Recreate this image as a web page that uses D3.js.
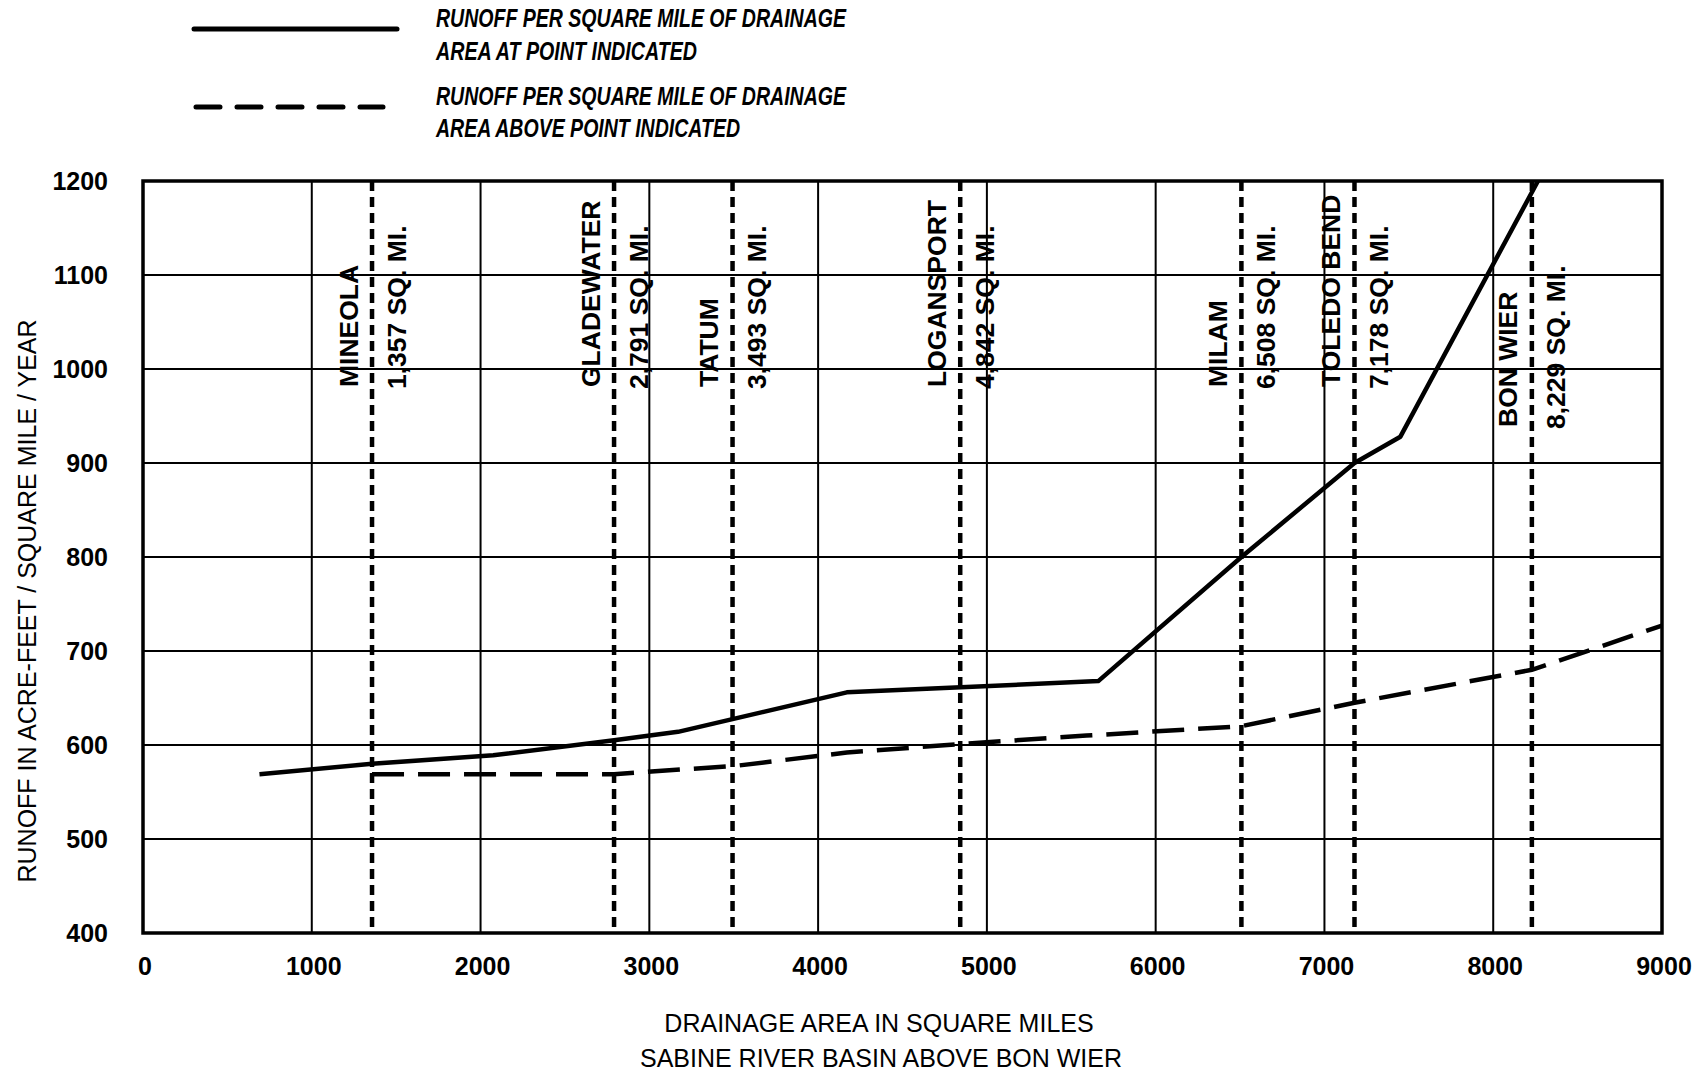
<!DOCTYPE html>
<html>
<head>
  <meta charset="utf-8">
  <title>Sabine River Basin Runoff</title>
  <script src="https://d3js.org/d3.v7.min.js"></script>
  <style>
    body { margin: 0; background: #fff; }
    svg { display: block; font-family: "Liberation Sans", Arial, sans-serif; }
    .grid line { stroke: #000; stroke-width: 2; }
    .frame { fill: none; stroke: #000; stroke-width: 3.5; }
    .station { stroke: #000; stroke-width: 4.5; stroke-dasharray: 10 6; }
    .tick-label { font-size: 25px; font-weight: bold; }
    .station-label { font-size: 26.5px; font-weight: bold; }
    .axis-title { font-size: 25px; }
    .legend-text { font-size: 26px; font-weight: bold; font-style: italic; }
  </style>
</head>
<body>
  <svg width="1703" height="1071"></svg>
  <script>
    // stations along the river (drainage area, sq. mi.)
    const stations = ["MINEOLA", "GLADEWATER", "TATUM", "LOGANSPORT", "MILAM", "TOLEDO BEND", "BON WIER"];
    const stationArea = [1357, 2791, 3493, 4842, 6508, 7178, 8229];
    const stationText = ["1,357 SQ. MI.", "2,791 SQ. MI.", "3,493 SQ. MI.", "4,842 SQ. MI.",
                         "6,508 SQ. MI.", "7,178 SQ. MI.", "8,229 SQ. MI."];

    // runoff per sq mile of drainage area at point indicated (solid)
    const atPointArea   = [690, 1357, 2075, 2791, 3170, 4170, 5660, 6508, 7178, 7450, 8265];
    const atPointRunoff = [569, 580, 589, 605, 614, 656, 668, 800, 900, 928, 1200];

    // runoff per sq mile of drainage area above point indicated (dashed)
    const aboveArea   = [1357, 2791, 3520, 4170, 4842, 5590, 6508, 7178, 8229, 9000];
    const aboveRunoff = [569, 569, 578, 592, 601, 610, 620, 645, 680, 727];

    const xTicks = [0, 1000, 2000, 3000, 4000, 5000, 6000, 7000, 8000, 9000];
    const yTicks = [400, 500, 600, 700, 800, 900, 1000, 1100, 1200];

    const svg = d3.select("svg");

    const x = d3.scaleLinear().domain([0, 9000]).range([143, 1662]);
    const y = d3.scaleLinear().domain([400, 1200]).range([933, 181]);

    // grid
    const grid = svg.append("g").attr("class", "grid");
    grid.selectAll("line.v")
      .data(xTicks.slice(1, -1))
      .enter().append("line")
      .attr("class", "v")
      .attr("x1", d => x(d)).attr("x2", d => x(d))
      .attr("y1", y(1200)).attr("y2", y(400));
    grid.selectAll("line.h")
      .data(yTicks.slice(1, -1))
      .enter().append("line")
      .attr("class", "h")
      .attr("x1", x(0)).attr("x2", x(9000))
      .attr("y1", d => y(d)).attr("y2", d => y(d));

    // station lines
    svg.append("g")
      .selectAll("line")
      .data(stationArea)
      .enter().append("line")
      .attr("class", "station")
      .attr("x1", d => x(d)).attr("x2", d => x(d))
      .attr("y1", y(1200)).attr("y2", y(400));

    // station labels, reading bottom to top
    const labels = svg.append("g");
    stationArea.forEach((a, i) => {
      const base = i === 6 ? 427 : 387;
      labels.append("text")
        .attr("class", "station-label")
        .attr("dy", "0.36em")
        .attr("transform", `translate(${x(a) - 24},${base}) rotate(-90)`)
        .text(stations[i]);
      labels.append("text")
        .attr("class", "station-label")
        .attr("dy", "0.36em")
        .attr("transform", `translate(${x(a) + 24},${base + 2}) rotate(-90)`)
        .text(stationText[i]);
    });

    // frame
    svg.append("rect")
      .attr("class", "frame")
      .attr("x", x(0)).attr("y", y(1200))
      .attr("width", x(9000) - x(0))
      .attr("height", y(400) - y(1200));

    const line = d3.line().x(d => x(d[0])).y(d => y(d[1]));

    svg.append("path")
      .datum(d3.zip(atPointArea, atPointRunoff))
      .attr("fill", "none")
      .attr("stroke", "#000")
      .attr("stroke-width", 4.5)
      .attr("stroke-linejoin", "round")
      .attr("d", line);

    svg.append("path")
      .datum(d3.zip(aboveArea, aboveRunoff))
      .attr("fill", "none")
      .attr("stroke", "#000")
      .attr("stroke-width", 4.5)
      .attr("stroke-dasharray", "32 14")
      .attr("d", line);

    // tick labels
    svg.append("g")
      .selectAll("text")
      .data(xTicks)
      .enter().append("text")
      .attr("class", "tick-label")
      .attr("text-anchor", "middle")
      .attr("x", d => x(d) + 2)
      .attr("y", 975)
      .text(d => d);
    svg.append("g")
      .selectAll("text")
      .data(yTicks)
      .enter().append("text")
      .attr("class", "tick-label")
      .attr("text-anchor", "end")
      .attr("dy", "0.36em")
      .attr("x", 108)
      .attr("y", d => y(d))
      .text(d => d);

    // axis titles
    svg.append("text")
      .attr("class", "axis-title")
      .attr("text-anchor", "middle")
      .attr("dy", "0.36em")
      .attr("transform", "translate(27,601) rotate(-90)")
      .text("RUNOFF IN ACRE-FEET / SQUARE MILE / YEAR");
    svg.append("text")
      .attr("class", "axis-title")
      .attr("text-anchor", "middle")
      .attr("x", 879).attr("y", 1032)
      .text("DRAINAGE AREA IN SQUARE MILES");
    svg.append("text")
      .attr("class", "axis-title")
      .attr("text-anchor", "middle")
      .attr("x", 881).attr("y", 1067)
      .text("SABINE RIVER BASIN ABOVE BON WIER");

    // legend
    const legend = svg.append("g");
    legend.append("line")
      .attr("x1", 194).attr("x2", 397).attr("y1", 29).attr("y2", 29)
      .attr("stroke", "#000").attr("stroke-width", 5).attr("stroke-linecap", "round");
    legend.append("line")
      .attr("x1", 196).attr("x2", 383).attr("y1", 107).attr("y2", 107)
      .attr("stroke", "#000").attr("stroke-width", 5).attr("stroke-linecap", "round")
      .attr("stroke-dasharray", "24 17");

    const legendLines = [
      ["RUNOFF PER SQUARE MILE OF DRAINAGE", 18, 410],
      ["AREA AT POINT INDICATED", 51, 261],
      ["RUNOFF PER SQUARE MILE OF DRAINAGE", 96, 410],
      ["AREA ABOVE POINT INDICATED", 128, 304]
    ];
    legend.selectAll("text")
      .data(legendLines)
      .enter().append("text")
      .attr("class", "legend-text")
      .attr("x", 436)
      .attr("y", d => d[1])
      .attr("dy", "0.36em")
      .attr("textLength", d => d[2])
      .attr("lengthAdjust", "spacingAndGlyphs")
      .text(d => d[0]);
  </script>
</body>
</html>
